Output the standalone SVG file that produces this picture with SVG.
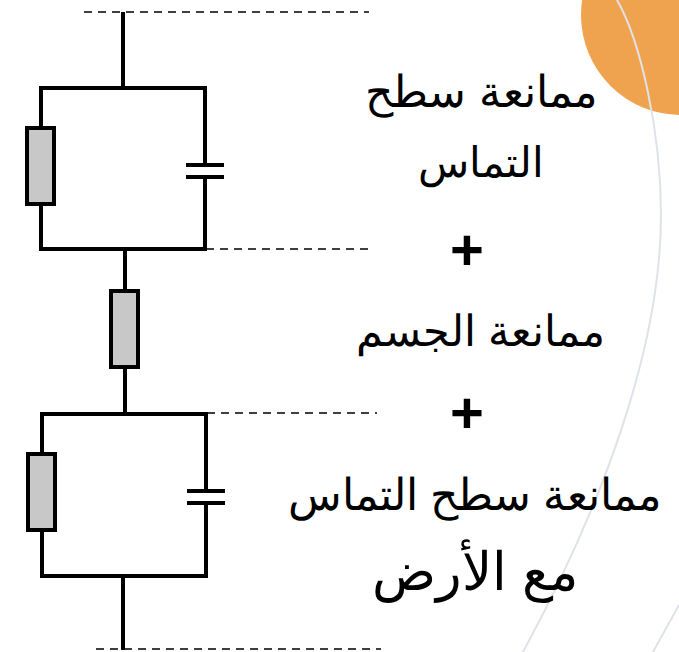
<svg xmlns="http://www.w3.org/2000/svg" width="679" height="652" viewBox="0 0 679 652">
<style>
.w{fill:none;stroke:#000;stroke-width:4}
.r{fill:#c8c8c8;stroke:#000;stroke-width:4}
.d{fill:none;stroke:#000;stroke-width:1.6;stroke-dasharray:8 6}
.c{fill:none;stroke:#dfe2e8;stroke-width:2}
.t{font-family:"Liberation Sans",Arial,sans-serif;font-size:44px;fill:#000;text-anchor:middle;direction:rtl}
.p{font-family:"Liberation Sans",Arial,sans-serif;font-size:58px;font-weight:bold;fill:#000;text-anchor:middle}
</style>
<rect width="679" height="652" fill="#fff"/>
<g id="decor">
<circle cx="681" cy="15" r="100" fill="#f0a34e"/>
<path class="c" d="M617 0C640 40 661 130 661 215C661 350 600 510 523 652"/>
<path class="c" d="M679 605L653 652"/>
</g>
<g id="connectors">
<path class="d" d="M84 12H369"/>
<path class="d" d="M206 249H374"/>
<path class="d" d="M207 413H377"/>
<path class="d" d="M96 649H381"/>
<path class="w" d="M123 12V87"/>
<path class="w" d="M41 128V88H205V163M186 165H224M186 177H224M205 177V249H41V204"/>
<path class="w" d="M125 249V291M125 367V413"/>
<path class="w" d="M42 454V414H206V490M187 491H225M187 503H225M206 503V576H42V530"/>
<path class="w" d="M123 576V650"/>
</g>
<g id="r1"><rect class="r" x="27" y="128" width="27" height="76"/></g>
<g id="r2"><rect class="r" x="111" y="291" width="27" height="76"/></g>
<g id="r3"><rect class="r" x="28" y="454" width="27" height="76"/></g>
<g id="l1"><text class="t" x="481.5" y="107">ممانعة سطح</text><text class="t" x="480.5" y="177" style="font-size:42px">التماس</text></g>
<g id="p1"><text class="p" x="467" y="270">+</text></g>
<g id="l2"><text class="t" x="480.5" y="346" style="font-size:42.5px">ممانعة الجسم</text></g>
<g id="p2"><text class="p" x="467" y="433">+</text></g>
<g id="l3"><text class="t" x="475" y="510">ممانعة سطح التماس</text><text class="t" x="475" y="590" style="font-size:53px">مع الأرض</text></g>
</svg>
